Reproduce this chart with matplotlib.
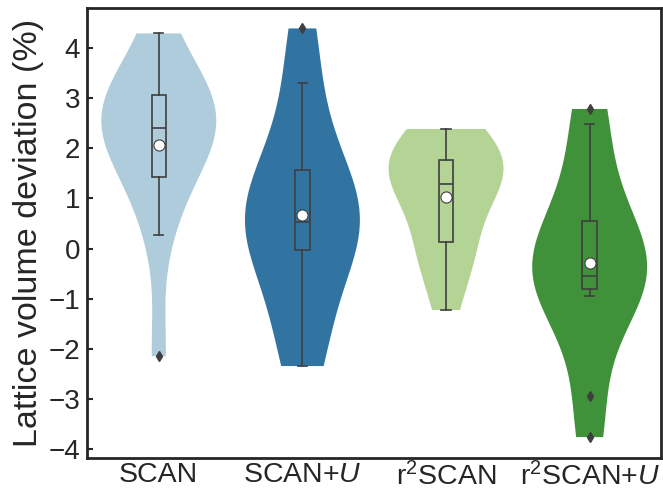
import numpy as np
import matplotlib
matplotlib.use("Agg")
import matplotlib.pyplot as plt
import seaborn as sns

# ---- data (lattice volume deviation, %) ----
categories = ["SCAN", "SCAN+$U$", "r$^2$SCAN", "r$^2$SCAN+$U$"]
scan = [-2.15, 0.27, 1.38, 1.43, 2.25, 2.3, 2.4, 2.55, 2.7, 3.07, 3.15, 3.25, 4.3]
scan_u = [-2.35, -1.9, -1.0, -0.02, 0.2, 0.4, 0.53, 0.7, 1.0, 1.56, 2.0, 3.3, 4.4]
r2scan = [-1.23, -0.4, 0.0, 0.14, 0.9, 1.1, 1.29, 1.5, 1.65, 1.77, 2.1, 2.2, 2.39]
r2scan_u = [-3.77, -2.94, -0.94, -0.81, -0.7, -0.6, -0.54, -0.3, 0.0, 0.55, 1.0, 2.49, 2.79]
yticks = [-4, -3, -2, -1, 0, 1, 2, 3, 4]
ylabel = "Lattice volume deviation (%)"

datasets = [scan, scan_u, r2scan, r2scan_u]

plt.rcParams["font.family"] = ["Liberation Sans", "DejaVu Sans"]
plt.rcParams["mathtext.fontset"] = "custom"
plt.rcParams["mathtext.rm"] = "Liberation Sans"
plt.rcParams["mathtext.it"] = "Liberation Sans:italic"
plt.rcParams["mathtext.bf"] = "Liberation Sans:bold"

colors = [sns.desaturate(c, 0.75) for c in sns.color_palette("Paired")[:4]]
line_c = "#3f3f3f"
spine_c = "#262626"

fig = plt.figure(figsize=(6.63, 4.91), dpi=100)
ax = fig.add_axes([0.1312, 0.0682, 0.8665, 0.9155])

pos = np.arange(len(datasets))
vp = ax.violinplot(datasets, positions=pos, widths=0.8, showextrema=False,
                   showmeans=False, showmedians=False, points=200)
for body, c in zip(vp["bodies"], colors):
    body.set_facecolor(c)
    body.set_edgecolor("none")
    body.set_linewidth(0)
    body.set_alpha(1)
    body.set_zorder(1)

bp = ax.boxplot(datasets, positions=pos, widths=0.1, patch_artist=True,
                showmeans=True, capwidths=0.065, manage_ticks=False,
                boxprops=dict(edgecolor=line_c, linewidth=1.2),
                whiskerprops=dict(color=line_c, linewidth=1.2),
                capprops=dict(color=line_c, linewidth=1.2),
                medianprops=dict(color=line_c, linewidth=1.2),
                meanprops=dict(marker="o", markerfacecolor="white",
                               markeredgecolor=line_c, markersize=8,
                               markeredgewidth=0.8),
                flierprops=dict(marker="d", markerfacecolor=line_c,
                                markeredgecolor=line_c, markersize=5))
for patch, c in zip(bp["boxes"], colors):
    patch.set_facecolor(c)
    patch.set_zorder(2)

ax.set_xlim(-0.5, 3.5)
ax.set_xticks(pos)
ax.set_xticklabels(categories, fontsize=20.5)
ax.set_yticks(yticks)
ax.set_yticklabels([str(t) if t >= 0 else "\u2212" + str(-t) for t in yticks],
                   fontsize=20)
ax.tick_params(axis="y", direction="in", length=4, width=1.5, color=spine_c,
               pad=5, labelcolor=spine_c)
ax.tick_params(axis="x", length=0, pad=3, labelcolor=spine_c)
ax.set_ylabel(ylabel, fontsize=24.5, color=spine_c, labelpad=3)
for s in ax.spines.values():
    s.set_linewidth(2.0)
    s.set_color(spine_c)

fig.savefig("out.png", dpi=100)
